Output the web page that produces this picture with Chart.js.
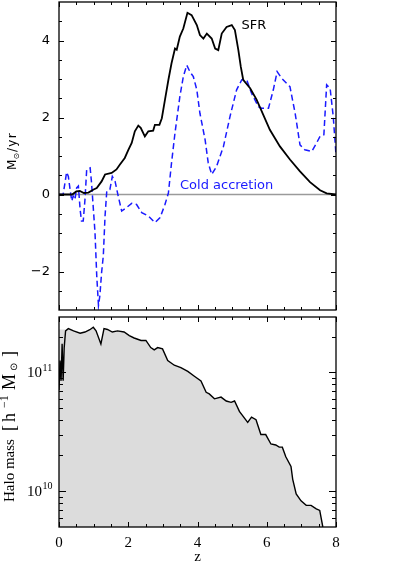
<!DOCTYPE html>
<html><head><meta charset="utf-8">
<script src="https://cdn.jsdelivr.net/npm/chart.js@4/dist/chart.umd.min.js"></script>
<style>
html,body{margin:0;padding:0;background:#fff;}
#wrap{position:relative;width:407px;height:566px;background:#fff;}
canvas{position:absolute;left:0;top:0;}
</style></head><body>
<div id="wrap"><canvas id="c1" width="407" height="566"></canvas><canvas id="c2" width="407" height="566"></canvas></div>
<script>
// ---------- data ----------
const sfrZ = [0,0.38,0.5,0.6,0.72,0.85,1.0,1.09,1.23,1.33,1.52,1.66,1.76,1.9,2.0,2.1,2.19,2.29,2.36,2.48,2.58,2.72,2.77,2.9,2.97,3.06,3.16,3.25,3.35,3.4,3.49,3.59,3.71,3.83,3.98,4.07,4.17,4.27,4.41,4.51,4.6,4.7,4.84,4.99,5.08,5.18,5.25,5.32,5.52,5.71,5.9,6.09,6.38,6.67,6.96,7.25,7.54,7.73,8.0];
const sfr  = [0,0,0.08,0.09,0.04,0.05,0.13,0.17,0.34,0.52,0.56,0.65,0.78,0.95,1.15,1.34,1.64,1.79,1.73,1.51,1.64,1.66,1.81,1.81,1.98,2.46,2.98,3.41,3.79,3.76,4.10,4.31,4.72,4.66,4.40,4.14,4.05,4.18,4.05,3.79,3.75,4.18,4.35,4.40,4.27,3.75,3.32,2.98,2.76,2.46,2.07,1.68,1.25,0.91,0.60,0.32,0.11,0.03,0];

const coldZ = [0,0.12,0.22,0.27,0.32,0.37,0.41,0.46,0.51,0.56,0.61,0.65,0.70,0.75,0.80,0.90,0.94,1.04,1.09,1.14,1.18,1.23,1.28,1.33,1.38,1.47,1.54,1.62,1.71,1.81,1.95,2.10,2.24,2.39,2.58,2.77,2.92,3.06,3.16,3.25,3.35,3.49,3.59,3.69,3.78,3.88,3.98,4.07,4.22,4.31,4.41,4.55,4.75,4.94,5.13,5.28,5.42,5.56,5.76,5.85,6.05,6.19,6.30,6.43,6.67,6.82,6.96,7.10,7.30,7.44,7.54,7.65,7.73,7.83,7.92,8.0];
const cold  = [0,0,0.58,0.47,0.13,-0.17,-0.04,-0.13,0.17,0.22,-0.39,-0.69,-0.69,-0.13,0.65,0.69,0.30,-0.99,-2.11,-2.88,-2.63,-2.03,-1.59,-0.56,0.09,0.13,0.47,0.34,-0.04,-0.43,-0.34,-0.23,-0.26,-0.47,-0.56,-0.73,-0.60,-0.26,0.04,0.82,1.60,2.54,3.06,3.36,3.19,3.06,2.72,2.11,1.42,0.82,0.52,0.73,1.25,2.03,2.72,2.98,2.98,2.63,2.28,2.24,2.24,2.72,3.19,3.02,2.80,2.11,1.29,1.16,1.12,1.34,1.51,1.55,2.85,2.76,2.03,1.03];

const haloZ = [0,0.03,0.06,0.09,0.12,0.15,0.19,0.27,0.42,0.61,0.75,0.89,0.99,1.07,1.21,1.30,1.40,1.54,1.69,1.88,2.03,2.17,2.37,2.51,2.65,2.75,2.85,2.99,3.14,3.33,3.52,3.72,3.91,4.10,4.25,4.34,4.49,4.68,4.83,4.97,5.07,5.21,5.45,5.56,5.69,5.83,5.97,6.12,6.26,6.36,6.45,6.55,6.70,6.75,6.85,6.99,7.14,7.28,7.43,7.53,7.62,7.70];
const haloMass = [7.08e10,1.26e11,8.5e10,1.74e11,8.5e10,1.62e11,2.24e11,2.34e11,2.24e11,2.14e11,2.19e11,2.29e11,2.40e11,2.24e11,1.74e11,2.34e11,2.30e11,2.19e11,2.24e11,2.19e11,2.04e11,1.95e11,1.86e11,1.86e11,1.62e11,1.55e11,1.62e11,1.58e11,1.26e11,1.15e11,1.10e11,1.02e11,9.3e10,8.5e10,6.8e10,6.6e10,6.0e10,6.2e10,5.75e10,5.6e10,5.75e10,4.7e10,3.8e10,4.2e10,4.0e10,3.0e10,3.0e10,2.5e10,2.45e10,2.35e10,2.35e10,1.95e10,1.62e10,1.26e10,9.5e9,8.3e9,7.6e9,7.6e9,7.1e9,6.9e9,5.0e9,4.0e9];
const haloEnvZ = [0,0.19];
const haloEnv  = [2.3e11,2.3e11];

// ticks
const xMajor = [0,2,4,6,8];
const xMinor = [0.5,1,1.5,2.5,3,3.5,4.5,5,5.5,6.5,7,7.5];
const xLabels = ['0','2','4','6','8'];
const yTopMajor = [-2,0,2,4];
const yTopMinor = [-2.5,-1.5,-1,-0.5,0.5,1,1.5,2.5,3,3.5,4.5];
const yTopLabels = ['\u22122','0','2','4'];
const yLogMajor = [1e10,1e11];
const yLogMinor = [6e9,7e9,8e9,9e9,2e10,3e10,4e10,5e10,6e10,7e10,8e10,9e10,2e11];
const yLogBase = ['10','10'];
const yLogExp  = ['10','11'];

// ---------- helpers ----------
const pts = (xs, ys) => xs.map((x,i)=>({x:x, y:ys[i]}));

// rotated (-90deg) text made of runs placed at offsets along the reading direction
function drawRuns(ctx, runs, cx, startY, family){
  ctx.save();
  ctx.translate(cx, startY);
  ctx.rotate(-Math.PI/2);
  ctx.textBaseline = 'middle';
  ctx.textAlign = 'left';
  runs.forEach(r=>{
    ctx.font = r.size+'px "'+family+'"';
    ctx.letterSpacing = (r.ls||0)+'px';
    ctx.fillText(r.t, r.off, r.dy||0);
  });
  ctx.restore();
}

const frameTicks = {
  id:'frameTicks',
  beforeDatasetsDraw(chart, args, o){
    if (!o.zeroLine) return;
    const {ctx, chartArea:a, scales} = chart;
    const py = scales.y.getPixelForValue(0);
    ctx.save();
    ctx.strokeStyle = '#9a9a9a'; ctx.lineWidth = 1.5;
    ctx.beginPath(); ctx.moveTo(a.left, py); ctx.lineTo(a.right, py); ctx.stroke();
    ctx.restore();
  },
  afterDraw(chart, args, o){
    const {ctx, chartArea:a, scales} = chart;
    const xs = scales.x, ys = scales.y;
    ctx.save();
    ctx.strokeStyle = '#000'; ctx.lineWidth = 1;
    const xt = (vals, len) => vals.forEach(v=>{
      const px = Math.round(xs.getPixelForValue(v)) + 0.5;
      ctx.beginPath();
      ctx.moveTo(px, a.bottom); ctx.lineTo(px, a.bottom - len);
      ctx.moveTo(px, a.top); ctx.lineTo(px, a.top + len);
      ctx.stroke();
    });
    const yt = (vals, len) => vals.forEach(v=>{
      const py = Math.round(ys.getPixelForValue(v)) + 0.5;
      ctx.beginPath();
      ctx.moveTo(a.left, py); ctx.lineTo(a.left + len, py);
      ctx.moveTo(a.right, py); ctx.lineTo(a.right - len, py);
      ctx.stroke();
    });
    xt(o.xMajor, 5); xt(o.xMinor, 3);
    yt(o.yMajor, o.yMajorLen); yt(o.yMinor, o.yMinorLen);
    ctx.lineWidth = 1.3;
    ctx.strokeRect(a.left, a.top, a.right - a.left, a.bottom - a.top);
    if (o.texts) o.texts(ctx, chart);
    ctx.restore();
  }
};

const common = {
  responsive:false, animation:false, devicePixelRatio:1,
  plugins:{legend:{display:false}, tooltip:{enabled:false}}
};

// ---------- top panel ----------
new Chart(document.getElementById('c1'), {
  type:'line',
  data:{datasets:[
    {data:pts(sfrZ, sfr), borderColor:'#000', borderWidth:1.8, pointRadius:0, tension:0, fill:false},
    {data:pts(coldZ, cold), borderColor:'#1a1aff', borderWidth:1.5, borderDash:[6,3.5], pointRadius:0, tension:0, fill:false}
  ]},
  options:Object.assign({}, common, {
    layout:{padding:{left:0, right:71, top:2, bottom:256}},
    plugins:Object.assign({}, common.plugins, {
      frameTicks:{
        zeroLine:true, xMajor:xMajor, xMinor:xMinor, yMajor:yTopMajor, yMinor:yTopMinor, yMajorLen:5, yMinorLen:3,
        texts:(ctx)=>{
          ctx.fillStyle = '#000';
          ctx.font = '13px "DejaVu Sans"';
          ctx.textAlign = 'center'; ctx.textBaseline = 'middle';
          ctx.fillText('SFR', 254, 26);
          ctx.fillStyle = '#1a1aff';
          ctx.textAlign = 'left';
          ctx.fillText('Cold accretion', 180, 186);
          ctx.fillStyle = '#000';
          drawRuns(ctx, [
            {t:'M', size:12, off:0},
            {t:'\u2299', size:8, off:10.5, dy:3.5},
            {t:'/yr', size:12, off:18, ls:1.3}
          ], 13, 170, 'DejaVu Sans');
        }
      }
    }),
    scales:{
      x:{type:'linear', min:0, max:8, display:false},
      y:{type:'linear', min:-3, max:5,
         grid:{display:false, drawTicks:false}, border:{display:false},
         afterBuildTicks:s=>{ s.ticks = yTopMajor.map(v=>({value:v})); },
         afterFit:s=>{ s.width = 59; s.paddingTop = 0; s.paddingBottom = 0; },
         ticks:{padding:9, color:'#000', font:{family:'DejaVu Sans', size:13},
                callback:(v)=>yTopLabels[yTopMajor.indexOf(v)]}}
    }
  }),
  plugins:[frameTicks]
});

// ---------- bottom panel ----------
new Chart(document.getElementById('c2'), {
  type:'line',
  data:{datasets:[
    {data:pts(haloZ, haloMass), borderColor:'#000', borderWidth:1.4, pointRadius:0, tension:0, fill:'start', backgroundColor:'#dcdcdc'},
    {data:pts(haloEnvZ, haloEnv), borderWidth:0, borderColor:'rgba(0,0,0,0)', pointRadius:0, tension:0, fill:'start', backgroundColor:'#dcdcdc'}
  ]},
  options:Object.assign({}, common, {
    layout:{padding:{left:0, right:71, top:317, bottom:0}},
    plugins:Object.assign({}, common.plugins, {
      frameTicks:{
        zeroLine:false, xMajor:xMajor, xMinor:xMinor, yMajor:yLogMajor, yMinor:yLogMinor, yMajorLen:7, yMinorLen:4,
        texts:(ctx, chart)=>{
          const ys = chart.scales.y;
          ctx.fillStyle = '#000';
          ctx.textBaseline = 'middle'; ctx.textAlign = 'left';
          yLogMajor.forEach((v,i)=>{
            const py = ys.getPixelForValue(v);
            ctx.font = '15px "Liberation Serif"';
            ctx.fillText(yLogBase[i], 27, py + 1);
            const w = ctx.measureText(yLogBase[i]).width;
            ctx.font = '10px "Liberation Serif"';
            ctx.fillText(yLogExp[i], 27 + w + 0.5, py - 4.5);
          });
          ctx.font = '15px "Liberation Serif"';
          ctx.textAlign = 'center';
          ctx.fillText('z', 197.5, 557);
          drawRuns(ctx, [
            {t:'Halo mass', size:15, off:0},
            {t:'[', size:18, off:71},
            {t:'h', size:18, off:80},
            {t:'\u22121', size:12, off:94, dy:-5},
            {t:'M', size:18, off:112},
            {t:'\u2299', size:10, off:131, dy:4},
            {t:']', size:18, off:145}
          ], 10, 502, 'Liberation Serif');
        }
      }
    }),
    scales:{
      x:{type:'linear', min:0, max:8,
         grid:{display:false, drawTicks:false}, border:{display:false},
         afterBuildTicks:s=>{ s.ticks = xMajor.map(v=>({value:v})); },
         afterFit:s=>{ s.height = 39; s.paddingLeft = 0; s.paddingRight = 0; },
         ticks:{padding:7, color:'#000', maxRotation:0, autoSkip:false, font:{family:'Liberation Serif', size:15},
                callback:(v)=>xLabels[xMajor.indexOf(v)]}},
      y:{type:'logarithmic', min:5e9, max:2.93e11,
         grid:{display:false, drawTicks:false}, border:{display:false},
         afterBuildTicks:s=>{ s.ticks = yLogMajor.map(v=>({value:v})); },
         afterFit:s=>{ s.width = 59; s.paddingTop = 0; s.paddingBottom = 0; },
         ticks:{display:false}}
    }
  }),
  plugins:[frameTicks]
});
</script>
</body></html>
